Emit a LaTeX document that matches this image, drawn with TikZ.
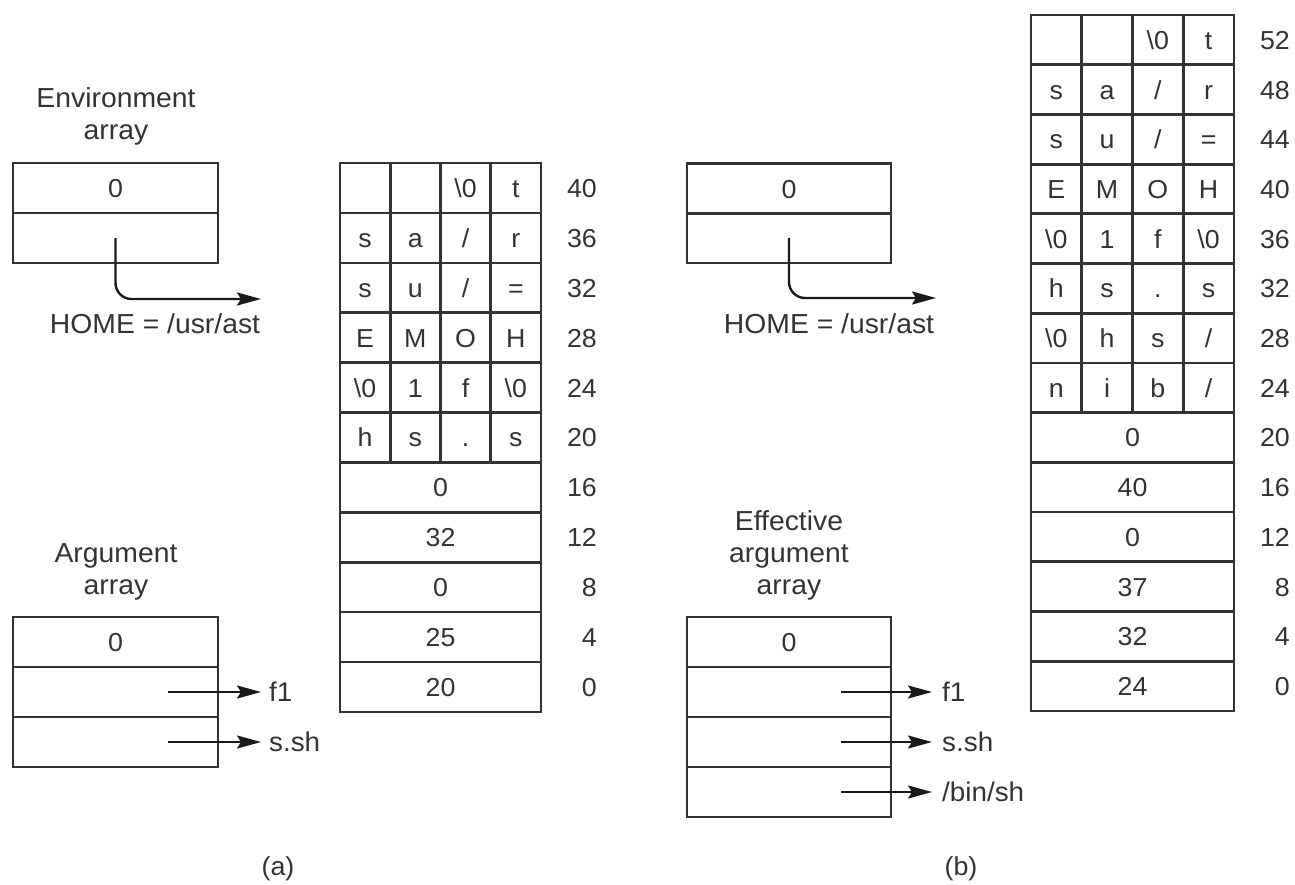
\documentclass[tikz,border=0pt]{standalone}
\usepackage{fontspec}
\setmainfont{Liberation Sans}[FakeStretch=1.03]
\usetikzlibrary{arrows.meta}
\newcommand\bz{\textbackslash 0}
\tikzset{
  cell/.style={draw=black!80, line width=2.6pt, inner sep=0pt, minimum height=49.9,
    font=\fontsize{26}{30}\selectfont, text=black!80, text height=19, text depth=0},
  abox/.style={cell, minimum width=205, minimum height=50},
  lbl/.style={font=\fontsize{27.5}{32}\selectfont, align=center, text=black!80, inner sep=0pt},
  addr/.style={font=\fontsize{26}{30}\selectfont, anchor=east, inner sep=0pt, text=black!80, text height=19, text depth=0},
  tgt/.style={font=\fontsize{27}{30}\selectfont, anchor=west, inner sep=0pt, text=black!80, text height=19, text depth=0},
  ptr/.style={line width=2.4pt, draw=black!90, -{Stealth[length=24pt,width=13pt,inset=4pt]}},
}
% #1 prefix, #2 x0, #3 y centre, #4 cell width, #5-#8 contents
\newcommand\charrow[8]{%
  \node[cell,minimum width=#4] (#1c1) at ({#2+0.5*#4},{#3}) {#5};
  \node[cell,minimum width=#4] (#1c2) at ({#2+1.5*#4},{#3}) {#6};
  \node[cell,minimum width=#4] (#1c3) at ({#2+2.5*#4},{#3}) {#7};
  \node[cell,minimum width=#4] (#1c4) at ({#2+3.5*#4},{#3}) {#8};}
\begin{document}
\begin{tikzpicture}[x=1pt,y=-1pt]
\useasboundingbox (0,0) rectangle (1295,884);

% ---------------- (a) ----------------
\node[lbl] (envAl) at (116,116) {Environment\\array};
\node[abox] (envA1) at (115.5,188) {0};
\node[abox] (envA2) at (115.5,238) {};
\node[lbl] (homeA) at (155,324) {HOME = /usr/ast};
\coordinate (homeAend) at (261,299);
\draw[ptr, rounded corners=16] (envA2.center) |- (homeAend);

\node[lbl] (argAl) at (116,572) {Argument\\array};
\node[abox] (argA1) at (115.5,642) {0};
\node[abox] (argA2) at (115.5,692) {};
\node[abox] (argA3) at (115.5,742) {};
\node[tgt] (fA) at (269,692) {f1};
\node[tgt] (sA) at (269,742) {s.sh};
\coordinate (pA2) at (168,692);
\coordinate (pA3) at (168,742);
\draw[ptr, shorten >=8pt] (pA2) -- (pA2 -| fA.west);
\draw[ptr, shorten >=8pt] (pA3) -- (pA3 -| sA.west);

% memory (a)
\def\ya#1{163+49.9*(#1+0.5)}
\charrow{ta40}{340}{\ya{0}}{50.25}{}{}{\bz}{t}
\charrow{ta36}{340}{\ya{1}}{50.25}{s}{a}{/}{r}
\charrow{ta32}{340}{\ya{2}}{50.25}{s}{u}{/}{=}
\charrow{ta28}{340}{\ya{3}}{50.25}{E}{M}{O}{H}
\charrow{ta24}{340}{\ya{4}}{50.25}{\bz}{1}{f}{\bz}
\charrow{ta20}{340}{\ya{5}}{50.25}{h}{s}{.}{s}
\node[cell,minimum width=201] (ta16) at (440.5,{\ya{6}}) {0};
\node[cell,minimum width=201] (ta12) at (440.5,{\ya{7}}) {32};
\node[cell,minimum width=201] (ta8)  at (440.5,{\ya{8}}) {0};
\node[cell,minimum width=201] (ta4)  at (440.5,{\ya{9}}) {25};
\node[cell,minimum width=201] (ta0)  at (440.5,{\ya{10}}) {20};
\foreach \n [count=\i from 0] in {40,36,32,28,24,20,16,12,8,4,0}
  \node[addr] (naddr\n) at (597,{\ya{\i}}) {\n};

\node[lbl, font=\fontsize{26}{30}\selectfont] (capA) at (278,869) {(a)};

% ---------------- (b) ----------------
\node[abox, minimum width=204] (envB1) at (789,188.5) {0};
\node[abox, minimum width=204] (envB2) at (789,238) {};
\node[lbl] (homeB) at (829,324) {HOME = /usr/ast};
\coordinate (homeBend) at (936,298);
\draw[ptr, rounded corners=16] (envB2.center) |- (homeBend);

\node[lbl] (effBl) at (789,555) {Effective\\argument\\array};
\node[abox, minimum width=204] (effB1) at (789,642) {0};
\node[abox, minimum width=204] (effB2) at (789,692) {};
\node[abox, minimum width=204] (effB3) at (789,742) {};
\node[abox, minimum width=204] (effB4) at (789,792) {};
\node[tgt] (fB) at (942,692) {f1};
\node[tgt] (sB) at (942,742) {s.sh};
\node[tgt] (bB) at (942,792) {/bin/sh};
\coordinate (pB2) at (841,692);
\coordinate (pB3) at (841,742);
\coordinate (pB4) at (841,792);
\draw[ptr, shorten >=10pt] (pB2) -- (pB2 -| fB.west);
\draw[ptr, shorten >=10pt] (pB3) -- (pB3 -| sB.west);
\draw[ptr, shorten >=10pt] (pB4) -- (pB4 -| bB.west);

% memory (b)
\def\yb#1{15+49.7*(#1+0.5)}
\charrow{tb52}{1031}{\yb{0}}{50.75}{}{}{\bz}{t}
\charrow{tb48}{1031}{\yb{1}}{50.75}{s}{a}{/}{r}
\charrow{tb44}{1031}{\yb{2}}{50.75}{s}{u}{/}{=}
\charrow{tb40}{1031}{\yb{3}}{50.75}{E}{M}{O}{H}
\charrow{tb36}{1031}{\yb{4}}{50.75}{\bz}{1}{f}{\bz}
\charrow{tb32}{1031}{\yb{5}}{50.75}{h}{s}{.}{s}
\charrow{tb28}{1031}{\yb{6}}{50.75}{\bz}{h}{s}{/}
\charrow{tb24}{1031}{\yb{7}}{50.75}{n}{i}{b}{/}
\node[cell,minimum width=203] (tb20) at (1132.5,{\yb{8}}) {0};
\node[cell,minimum width=203] (tb16) at (1132.5,{\yb{9}}) {40};
\node[cell,minimum width=203] (tb12) at (1132.5,{\yb{10}}) {0};
\node[cell,minimum width=203] (tb8)  at (1132.5,{\yb{11}}) {37};
\node[cell,minimum width=203] (tb4)  at (1132.5,{\yb{12}}) {32};
\node[cell,minimum width=203] (tb0)  at (1132.5,{\yb{13}}) {24};
\foreach \n [count=\i from 0] in {52,48,44,40,36,32,28,24,20,16,12,8,4,0}
  \node[addr] (nbddr\n) at (1290,{\yb{\i}}) {\n};

\node[lbl, font=\fontsize{26}{30}\selectfont] (capB) at (961,869) {(b)};
\end{tikzpicture}
\end{document}
